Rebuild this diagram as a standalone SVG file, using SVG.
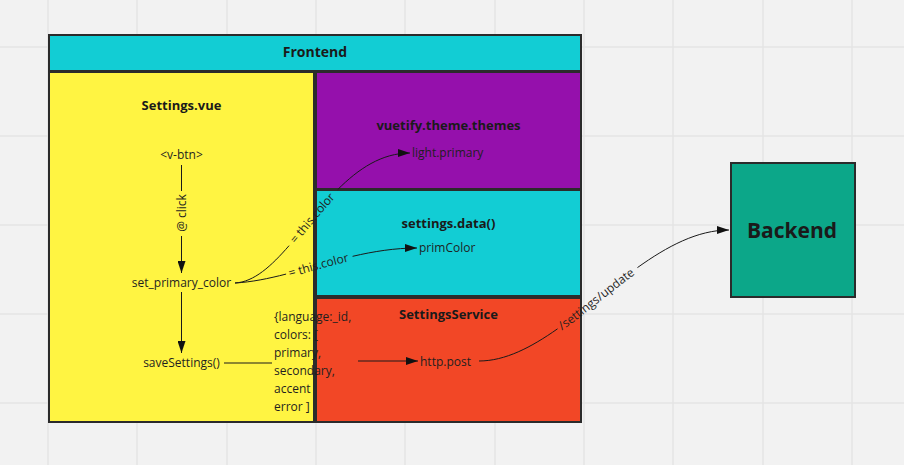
<svg xmlns="http://www.w3.org/2000/svg" width="904" height="465" viewBox="0 0 904 465">
<style>
  .box { stroke: #2b2b2b; stroke-width: 2; }
  .title { font-family: "Open Sans", "Liberation Sans", sans-serif; font-weight: bold; fill: #1a1a1a; text-anchor: middle; }
  .lbl { font-family: "Open Sans", "Liberation Sans", sans-serif; font-size: 12px; fill: #1f1f1f; }
  .mid { text-anchor: middle; }
  .conn { fill: none; stroke: #1a1a1a; stroke-width: 1; }
  .grid { stroke: #e4e4e4; stroke-width: 1.5; }
</style>
<defs>
  <marker id="arrow" viewBox="0 0 12 8" refX="12" refY="4" markerWidth="12" markerHeight="8" markerUnits="userSpaceOnUse" orient="auto">
    <path d="M0,0 L12,4 L0,8 z" fill="#111"/>
  </marker>
  <path id="p1" pathLength="100" d="M235,283 C290,280 330,153 410,153"/>
  <path id="p2" pathLength="100" d="M235,283 C290,280 350,248 417,248"/>
  <path id="p3" pathLength="100" d="M479,361 C560,361 640,230 729,230"/>
</defs>
<rect x="0" y="0" width="904" height="465" fill="#f2f2f2"/>
<g id="grid">
  <line class="grid" x1="48" y1="0" x2="48" y2="465"/>
  <line class="grid" x1="137" y1="0" x2="137" y2="465"/>
  <line class="grid" x1="227" y1="0" x2="227" y2="465"/>
  <line class="grid" x1="316" y1="0" x2="316" y2="465"/>
  <line class="grid" x1="405" y1="0" x2="405" y2="465"/>
  <line class="grid" x1="495" y1="0" x2="495" y2="465"/>
  <line class="grid" x1="584" y1="0" x2="584" y2="465"/>
  <line class="grid" x1="673" y1="0" x2="673" y2="465"/>
  <line class="grid" x1="763" y1="0" x2="763" y2="465"/>
  <line class="grid" x1="852" y1="0" x2="852" y2="465"/>
  <line class="grid" x1="0" y1="47" x2="904" y2="47"/>
  <line class="grid" x1="0" y1="136" x2="904" y2="136"/>
  <line class="grid" x1="0" y1="225" x2="904" y2="225"/>
  <line class="grid" x1="0" y1="314" x2="904" y2="314"/>
  <line class="grid" x1="0" y1="403" x2="904" y2="403"/>
</g>
<g id="frontend">
  <rect class="box" x="49" y="35" width="532" height="36" fill="#12cdd4"/>
  <text class="title" x="315" y="57" font-size="14">Frontend</text>
</g>
<g id="settings-vue">
  <rect class="box" x="49" y="72" width="265" height="350" fill="#fff442"/>
  <text class="title" x="181.5" y="110" font-size="13">Settings.vue</text>
</g>
<g id="vuetify-themes">
  <rect class="box" x="316" y="72" width="265" height="117" fill="#9510ac"/>
  <text class="title" x="448.5" y="130" font-size="13">vuetify.theme.themes</text>
</g>
<g id="settings-data">
  <rect class="box" x="316" y="190" width="265" height="106" fill="#12cdd4"/>
  <text class="title" x="448.5" y="228" font-size="13">settings.data()</text>
</g>
<g id="settings-service">
  <rect class="box" x="316" y="298" width="265" height="124" fill="#f24726"/>
  <text class="title" x="448.5" y="319" font-size="13">SettingsService</text>
</g>
<g id="backend">
  <rect class="box" x="731" y="163" width="124" height="134" fill="#0ca789"/>
  <text class="title" x="792" y="238" font-size="21">Backend</text>
</g>
<g id="v-btn"><text class="lbl mid" x="181.5" y="159">&lt;v-btn&gt;</text></g>
<g id="set-primary-color"><text class="lbl mid" x="181.5" y="287">set_primary_color</text></g>
<g id="save-settings"><text class="lbl mid" x="181.5" y="367">saveSettings()</text></g>
<g id="light-primary"><text class="lbl" x="412" y="157">light.primary</text></g>
<g id="prim-color"><text class="lbl" x="419" y="252">primColor</text></g>
<g id="http-post"><text class="lbl" x="420" y="366">http.post</text></g>
<g id="payload">
  <text class="lbl" x="274" y="321">{language:_id,</text>
  <text class="lbl" x="274" y="339">colors: [</text>
  <text class="lbl" x="274" y="357">primary,</text>
  <text class="lbl" x="274" y="375">secondary,</text>
  <text class="lbl" x="274" y="393">accent</text>
  <text class="lbl" x="274" y="411">error ]</text>
</g>
<g id="connectors">
  <line class="conn" x1="181.5" y1="165" x2="181.5" y2="191"/>
  <line class="conn" x1="181.5" y1="236" x2="181.5" y2="273" marker-end="url(#arrow)"/>
  <text class="lbl mid" transform="translate(181.5,213) rotate(-90)" y="4">@ click</text>
  <line class="conn" x1="181.5" y1="292" x2="181.5" y2="353" marker-end="url(#arrow)"/>
  <line class="conn" x1="224" y1="363" x2="272" y2="363"/>
  <line class="conn" x1="358" y1="361" x2="418" y2="361" marker-end="url(#arrow)"/>
  <use href="#p1" class="conn" stroke-dasharray="30 33 37" marker-end="url(#arrow)"/>
  <text class="lbl" dy="4"><textPath href="#p1" startOffset="46%" text-anchor="middle">= this.color</textPath></text>
  <use href="#p2" class="conn" stroke-dasharray="28 37 35" marker-end="url(#arrow)"/>
  <text class="lbl" dy="4"><textPath href="#p2" startOffset="46%" text-anchor="middle">= this.color</textPath></text>
  <use href="#p3" class="conn" stroke-dasharray="30 35 35" marker-end="url(#arrow)"/>
  <text class="lbl" dy="4"><textPath href="#p3" startOffset="47%" text-anchor="middle">/settings/update</textPath></text>
</g>
</svg>
